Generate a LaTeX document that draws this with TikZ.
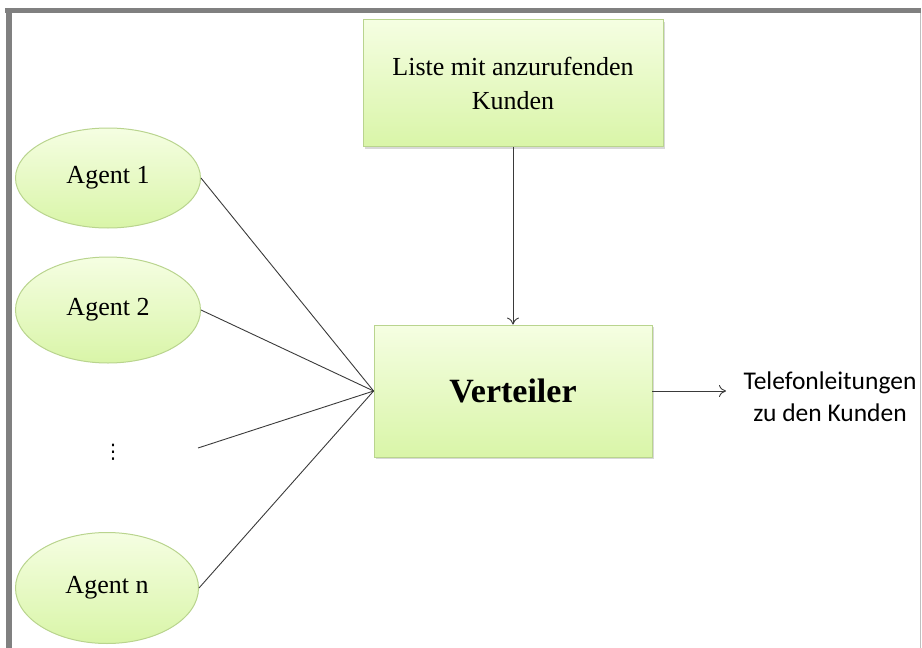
\documentclass[tikz,border=0pt]{standalone}
\usepackage{fontspec}
\setmainfont{Liberation Serif}
\newfontfamily\calib{Carlito}
\newfontfamily\dejavu{DejaVu Sans}
\usetikzlibrary{shadows,arrows.meta,shapes.geometric}
\definecolor{gtop}{HTML}{F5FEE2}
\definecolor{gbot}{HTML}{D9F5A8}
\definecolor{gline}{HTML}{B9D48E}
\definecolor{frame}{HTML}{808080}
\definecolor{conn}{HTML}{3A3A3A}
\tikzset{
  greenbox/.style={rectangle, draw=gline, line width=0.8pt, top color=gtop, bottom color=gbot,
    drop shadow={shadow xshift=1.5pt, shadow yshift=-2pt, fill=black!30}, align=center},
  agent/.style={ellipse, draw=gline, line width=1pt, top color=gtop, bottom color=gbot,
    inner sep=0pt, font=\fontsize{26}{30}\selectfont},
  conline/.style={draw=conn, line width=0.9pt},
  conarrow/.style={conline, -{To[length=7pt,width=12pt]}},
}
\begin{document}
\begin{tikzpicture}[x=1pt,y=-1pt]
\useasboundingbox (0,0) rectangle (922,648);
% frame
\fill[frame] (5,8) rectangle (921,13);
\fill[frame] (6,8) rectangle (12,648);
\fill[black!25] (919.5,13) rectangle (921,648);

\node[greenbox, minimum width=300pt, minimum height=127pt,
  font=\fontsize{26}{34}\selectfont] (liste) at (513,83) {Liste mit anzurufenden\\Kunden};
\node[greenbox, minimum width=278pt, minimum height=132pt,
  font=\fontsize{34}{38}\selectfont\bfseries] (vert) at (513,391) {Verteiler};

\node[agent, minimum width=185pt, minimum height=100pt] (a1) at (108,178) {Agent 1};
\node[agent, minimum width=185pt, minimum height=106pt] (a2) at (108,310) {Agent 2};
\node[agent, minimum width=183pt, minimum height=111pt] (an) at (107,588) {Agent n};
\node[inner sep=0pt, font=\dejavu\fontsize{20}{20}\selectfont] (dots) at (113,452) {⋮};
\coordinate (dl) at (198,448);

\node[align=center, inner sep=0pt, font=\calib\fontsize{25.5}{32}\selectfont] (tel) at (830,397)
  {Telefonleitungen\\zu den Kunden};
\coordinate (telin) at (726,391);

\draw[conarrow] (liste.south) -- (vert.north);
\draw[conarrow] (vert.east) -- (telin);
\draw[conline] (a1.east) -- (vert.west);
\draw[conline] (a2.east) -- (vert.west);
\draw[conline] (dl) -- (vert.west);
\draw[conline] (an.east) -- (vert.west);
\end{tikzpicture}
\end{document}
